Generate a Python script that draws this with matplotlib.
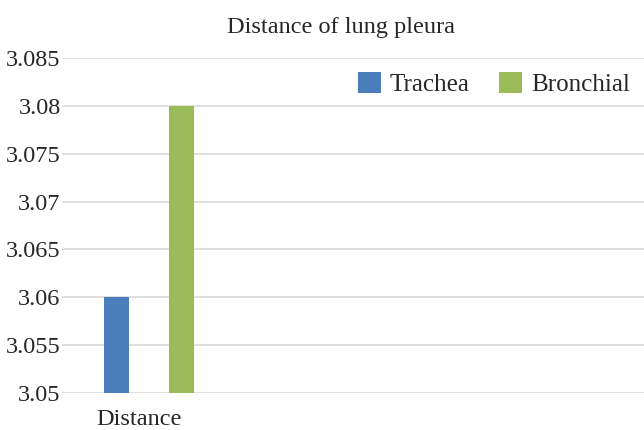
import matplotlib
matplotlib.use("Agg")
import matplotlib.pyplot as plt
from matplotlib.patches import Patch

plt.rcParams['font.family'] = ['Liberation Serif', 'DejaVu Serif']

title = "Distance of lung pleura"
categories = ["Distance"]
series_names = ["Trachea", "Bronchial"]
trachea = [3.06]
bronchial = [3.08]
colors = ["#4A7EBB", "#9BBB59"]
yticks = [3.05, 3.055, 3.06, 3.065, 3.07, 3.075, 3.08, 3.085]
ytick_labels = ["3.05", "3.055", "3.06", "3.065", "3.07", "3.075", "3.08", "3.085"]

fig = plt.figure(figsize=(6.44, 4.30), dpi=100)
ax = fig.add_axes([62/644, 1-393/430, 582/644, (393-58)/430])

offset = 0.1
width = 0.077
x = list(range(len(categories)))
base = 3.05
ax.bar([xi - offset for xi in x], [v - base for v in trachea], width, bottom=base,
       color=colors[0], zorder=3)
ax.bar([xi + offset for xi in x], [v - base for v in bronchial], width, bottom=base,
       color=colors[1], zorder=3)

ax.set_ylim(3.05, 3.085)
ax.set_xlim(-0.268, 1.523)
ax.set_yticks(yticks)
ax.set_yticklabels(ytick_labels, fontsize=17.5, color="#262626")
ax.set_xticks(x)
ax.set_xticklabels([])
for xi, cat in zip(x, categories):
    ax.annotate(cat, xy=(xi, 0), xycoords=ax.get_xaxis_transform(),
                xytext=(-7, -19), textcoords='offset points',
                ha='center', va='center', fontsize=17.5, color="#262626")
ax.tick_params(axis='both', length=0)
ax.tick_params(axis='y', pad=1)
ax.grid(axis='y', color="#D9D9D9", linewidth=1.2, zorder=0)
for s in ax.spines.values():
    s.set_visible(False)

fig.text(341/644, 1-27/430, title, ha='center', va='center', fontsize=17.5, color="#262626")

handles = [Patch(facecolor=c, edgecolor='none') for c in colors]
leg = ax.legend(handles, series_names, loc='center', bbox_to_anchor=(494/644, 1-84/430),
                bbox_transform=fig.transFigure, ncol=2, frameon=False, fontsize=18,
                handlelength=0.9, handleheight=0.9, handletextpad=0.35, columnspacing=1.2)
for t in leg.get_texts():
    t.set_color("#262626")

fig.savefig("out.png", dpi=100)
